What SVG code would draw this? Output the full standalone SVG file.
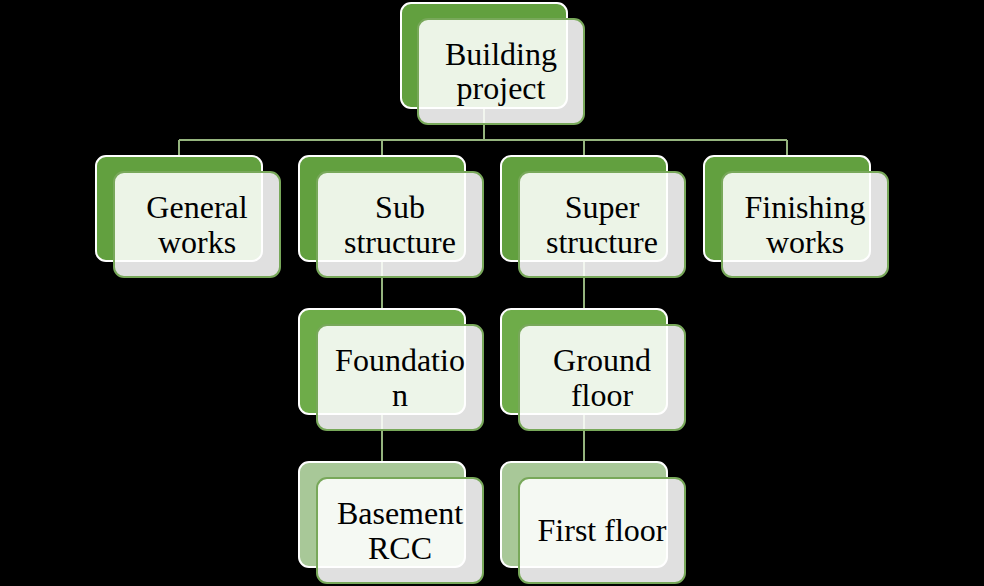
<svg xmlns="http://www.w3.org/2000/svg" width="984" height="586" viewBox="0 0 984 586">
<style>
.bk{stroke:#ffffff;stroke-width:2}
.l1{fill:#62a03f}
.l2{fill:#6eac49}
.l3{fill:#a8c898}
.fr{fill:#ffffff;fill-opacity:0.88;stroke:#78a85a;stroke-width:2}
.t{font-family:"Liberation Serif","Times New Roman",serif;font-size:32px;fill:#000000;text-anchor:middle}
.c{fill:none;stroke:#95b47e;stroke-width:2}
</style>
<rect x="0" y="0" width="984" height="586" fill="#000000"/>
<g id="connectors">
<path class="c" d="M484 108V140M179 140H787M179 140V156M382 140V156M584 140V156M787 140V156"/>
<path class="c" d="M382 261V309M382 414V462M584 261V309M584 414V462"/>
</g>
<g id="n-building">
<rect class="bk l1" x="401" y="3" width="166" height="105" rx="10"/>
<rect class="fr" x="418" y="19" width="166" height="105" rx="10"/>
<text class="t" x="501" y="65">Building</text>
<text class="t" x="501" y="99">project</text>
</g>
<g id="n-general">
<rect class="bk l1" x="96" y="156" width="166" height="105" rx="10"/>
<rect class="fr" x="114" y="172" width="166" height="105" rx="10"/>
<text class="t" x="197" y="218">General</text>
<text class="t" x="197" y="253">works</text>
</g>
<g id="n-sub">
<rect class="bk l1" x="299" y="156" width="166" height="105" rx="10"/>
<rect class="fr" x="317" y="172" width="166" height="105" rx="10"/>
<text class="t" x="400" y="218">Sub</text>
<text class="t" x="400" y="253">structure</text>
</g>
<g id="n-super">
<rect class="bk l1" x="501" y="156" width="166" height="105" rx="10"/>
<rect class="fr" x="519" y="172" width="166" height="105" rx="10"/>
<text class="t" x="602" y="218">Super</text>
<text class="t" x="602" y="253">structure</text>
</g>
<g id="n-finishing">
<rect class="bk l1" x="704" y="156" width="166" height="105" rx="10"/>
<rect class="fr" x="722" y="172" width="166" height="105" rx="10"/>
<text class="t" x="805" y="218">Finishing</text>
<text class="t" x="805" y="253">works</text>
</g>
<g id="n-foundation">
<rect class="bk l2" x="299" y="309" width="166" height="105" rx="10"/>
<rect class="fr" x="317" y="325" width="166" height="105" rx="10"/>
<text class="t" x="400" y="371">Foundatio</text>
<text class="t" x="400" y="406">n</text>
</g>
<g id="n-ground">
<rect class="bk l2" x="501" y="309" width="166" height="105" rx="10"/>
<rect class="fr" x="519" y="325" width="166" height="105" rx="10"/>
<text class="t" x="602" y="371">Ground</text>
<text class="t" x="602" y="406">floor</text>
</g>
<g id="n-basement">
<rect class="bk l3" x="299" y="462" width="166" height="105" rx="10"/>
<rect class="fr" x="317" y="478" width="166" height="105" rx="10"/>
<text class="t" x="400" y="524">Basement</text>
<text class="t" x="400" y="559">RCC</text>
</g>
<g id="n-first">
<rect class="bk l3" x="501" y="462" width="166" height="105" rx="10"/>
<rect class="fr" x="519" y="478" width="166" height="105" rx="10"/>
<text class="t" x="602" y="541">First floor</text>
</g>
</svg>
